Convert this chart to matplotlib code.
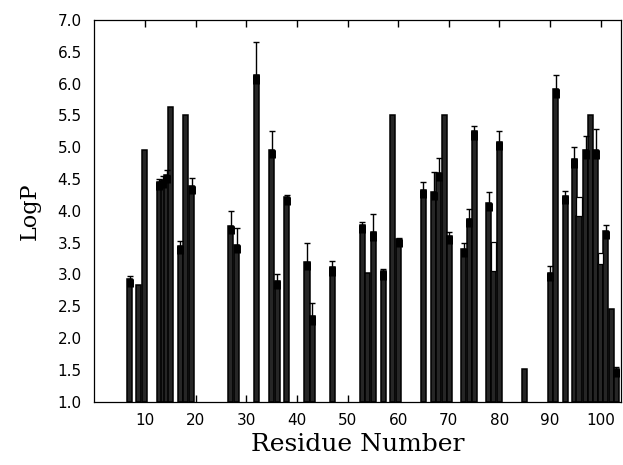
import numpy as np
import matplotlib
matplotlib.use('Agg')
import matplotlib.pyplot as plt

# residue positions, LogP values and upper error
residue = [7.0, 8.8, 10.0, 12.8, 13.6, 14.3, 15.1, 17.0, 18.0, 19.2,
           26.9, 28.1, 32.0, 35.0, 36.1, 38.0, 42.0, 43.0, 47.0,
           52.9, 54.0, 55.1, 57.1, 58.9, 60.1, 65.0, 67.0, 68.0, 69.1, 70.1,
           72.9, 74.0, 75.0, 77.9, 78.9, 80.0, 85.0, 90.0, 91.1, 93.0,
           94.8, 95.7, 97.0, 98.0, 99.0, 99.9, 101.0, 102.2, 103.1]
logp = [2.93, 2.84, 4.96, 4.45, 4.49, 4.56, 5.64, 3.45, 5.51, 4.39,
        3.76, 3.46, 6.13, 4.96, 2.90, 4.22, 3.20, 2.34, 3.11,
        3.78, 3.02, 3.66, 3.05, 5.51, 3.56, 4.33, 4.30, 4.60, 5.51, 3.61,
        3.40, 3.87, 5.25, 4.12, 3.06, 5.09, 1.52, 3.03, 5.91, 4.24,
        4.81, 3.92, 4.95, 5.50, 4.95, 3.16, 3.68, 2.46, 1.52]
err = [0.04, 0.0, 0.0, 0.05, 0.06, 0.09, 0.0, 0.08, 0.0, 0.13,
       0.23, 0.27, 0.53, 0.29, 0.10, 0.03, 0.30, 0.21, 0.10,
       0.05, 0.0, 0.29, 0.03, 0.0, 0.02, 0.12, 0.31, 0.23, 0.0, 0.05,
       0.09, 0.16, 0.08, 0.17, 0.0, 0.16, 0.0, 0.10, 0.22, 0.07,
       0.20, 0.0, 0.22, 0.0, 0.34, 0.0, 0.10, 0.0, 0.03]
# bars whose error range is drawn as an open box
box_res = [78.9, 95.7, 99.9]
box_lo = [3.06, 3.92, 3.16]
box_hi = [3.51, 4.22, 3.34]

x = np.array(residue)
h = np.array(logp)
e = np.array(err)

fig = plt.figure(figsize=(6.23, 4.65), dpi=100)
ax = fig.add_axes([0.1514, 0.1361, 0.8454, 0.8209])

ax.bar(x, h - 1.0, bottom=1.0, width=1.0, color='0.15', edgecolor='black', linewidth=1.1, zorder=2)
ax.bar(box_res, np.array(box_hi) - np.array(box_lo), bottom=box_lo, width=1.0,
       color='white', edgecolor='black', linewidth=0.9, zorder=3)

m = e > 0
ax.errorbar(x[m], h[m], yerr=[np.zeros(m.sum()), e[m]], fmt='none', ecolor='black',
            elinewidth=1.0, capsize=2.4, capthick=1.0, zorder=4)
# dark blocks at the top of bars with error bars
ax.vlines(x[m], h[m] - 0.13, h[m], color='black', linewidth=5, zorder=4)

ax.set_xlim(0, 104)
ax.set_ylim(1.0, 7.0)
ax.set_xticks(np.arange(10, 101, 10))
ax.set_yticks(np.arange(1.0, 7.01, 0.5))
ax.set_yticklabels(['%.1f' % v for v in np.arange(1.0, 7.01, 0.5)])
ax.tick_params(axis='x', direction='in', top=True, bottom=True, length=5, width=1,
               labelsize=11, pad=8)
ax.tick_params(axis='y', length=0, labelsize=11, pad=9)

ax.set_xlabel('Residue Number', family='DejaVu Serif', fontsize=18, labelpad=4)
ax.set_ylabel('LogP', family='DejaVu Serif', fontsize=16, labelpad=12)

for s in ax.spines.values():
    s.set_linewidth(0.9)

fig.savefig('out.png', dpi=100)
